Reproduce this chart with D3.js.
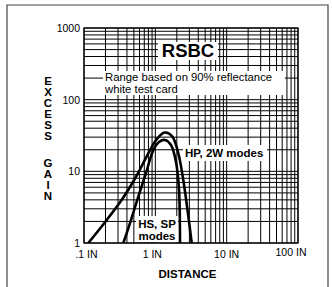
<!DOCTYPE html>
<html>
<head>
<meta charset="utf-8">
<script src="https://cdn.jsdelivr.net/npm/d3@7"></script>
<style>
  body { margin: 0; background: #fff; }
  text { font-family: "Liberation Sans", Arial, sans-serif; fill: #000; }
</style>
</head>
<body>
<svg width="332" height="287"></svg>
<script>
// axis ticks
const xTicks = [0.1, 1, 10, 100];
const xTickLabels = [".1 IN", "1 IN", "10 IN", "100 IN"];
const yTicks = [1, 10, 100, 1000];
const yTickLabels = ["1", "10", "100", "1000"];

// HP, 2W modes (outer curve)
const hpX = [0.115, 0.203, 0.352, 0.553, 0.815, 1.055, 1.345, 1.713, 2.079, 2.466, 2.825, 3.235];
const hpY = [1, 2.03, 4.25, 8.89, 18.6, 28.3, 34.8, 31.1, 18.6, 7.57, 2.89, 1];

// HS, SP modes (inner curve)
const hsX = [0.356, 0.456, 0.577, 0.740, 0.937, 1.126, 1.366, 1.658, 1.949, 2.147, 2.218];
const hsY = [1, 2.09, 4.43, 9.48, 19.8, 25.7, 27.4, 23.3, 13.5, 5.49, 1];

const svg = d3.select("svg");
const pLeft = 84, pRight = 298, pTop = 28, pBottom = 243;

const x = d3.scaleLog().domain([0.1, 100]).range([pLeft, pRight]);
const y = d3.scaleLog().domain([1, 1000]).range([pBottom, pTop]);

// outer frame
svg.append("path")
    .attr("d", "M7,287V5H328V287")
    .attr("fill", "none")
    .attr("stroke", "#444")
    .attr("stroke-width", 1.2);

// log grid
const gridX = [], gridY = [];
[0.1, 1, 10].forEach(d => { for (let i = 1; i <= 9; i++) gridX.push(d * i); });
gridX.push(100);
[1, 10, 100].forEach(d => { for (let i = 1; i <= 9; i++) gridY.push(d * i); });
gridY.push(1000);

const grid = svg.append("g");
grid.selectAll(".gx").data(gridX).enter().append("line")
    .attr("x1", d => x(d)).attr("x2", d => x(d))
    .attr("y1", pTop).attr("y2", pBottom)
    .attr("stroke", "#000").attr("stroke-width", 1);
grid.selectAll(".gy").data(gridY).enter().append("line")
    .attr("x1", pLeft).attr("x2", pRight)
    .attr("y1", d => y(d)).attr("y2", d => y(d))
    .attr("stroke", "#000").attr("stroke-width", 1);

svg.append("rect")
    .attr("x", pLeft).attr("y", pTop)
    .attr("width", pRight - pLeft).attr("height", pBottom - pTop)
    .attr("fill", "none").attr("stroke", "#000").attr("stroke-width", 1.2);

// curves
svg.append("clipPath").attr("id", "plot").append("rect")
    .attr("x", pLeft).attr("y", pTop).attr("width", pRight - pLeft).attr("height", pBottom - pTop);

const line = d3.line()
    .x(d => x(d[0]))
    .y(d => y(d[1]))
    .curve(d3.curveCatmullRom);

[[hpX, hpY], [hsX, hsY]].forEach(([xs, ys]) => {
    svg.append("path")
        .datum(xs.map((v, i) => [v, ys[i]]))
        .attr("clip-path", "url(#plot)")
        .attr("d", line)
        .attr("fill", "none")
        .attr("stroke", "#000")
        .attr("stroke-width", 2.6);
});

// white label boxes
function box(x0, y0, w, h) {
    svg.append("rect").attr("x", x0).attr("y", y0).attr("width", w).attr("height", h).attr("fill", "#fff");
}

box(158, 42, 60, 18);
svg.append("text").attr("x", 188).attr("y", 57)
    .attr("text-anchor", "middle").attr("font-weight", "bold").attr("font-size", 18.5)
    .text("RSBC");

box(103, 71, 182, 24);
svg.append("text").attr("x", 105).attr("y", 81).attr("font-size", 11.3)
    .text("Range based on 90% reflectance");
svg.append("text").attr("x", 105).attr("y", 93).attr("font-size", 11.3)
    .text("white test card");

box(183, 145, 84, 16);
svg.append("text").attr("x", 185).attr("y", 157).attr("font-size", 11.5).attr("font-weight", "bold")
    .text("HP, 2W modes");

box(136, 216, 42, 26);
svg.append("text").attr("x", 157).attr("y", 228).attr("text-anchor", "middle")
    .attr("font-size", 11.5).attr("font-weight", "bold").text("HS, SP");
svg.append("text").attr("x", 157).attr("y", 240).attr("text-anchor", "middle")
    .attr("font-size", 11.5).attr("font-weight", "bold").text("modes");

// tick labels
const xLabelShift = [2.5, -3, 0, -7];
const xLabelLift = [0, 0, 0, -2];
svg.selectAll(".xl").data(xTicks).enter().append("text")
    .attr("x", (d, i) => x(d) + xLabelShift[i])
    .attr("y", (d, i) => 258 + xLabelLift[i])
    .attr("text-anchor", "middle").attr("font-size", 10.5)
    .text((d, i) => xTickLabels[i]);

svg.selectAll(".yl").data(yTicks).enter().append("text")
    .attr("x", 80).attr("y", d => y(d) + 4)
    .attr("text-anchor", "end").attr("font-size", 10.5)
    .text((d, i) => yTickLabels[i]);

// axis titles
svg.append("text").attr("x", 187.5).attr("y", 278)
    .attr("text-anchor", "middle").attr("font-weight", "bold").attr("font-size", 11.5)
    .text("DISTANCE");

const title1 = "EXCESS".split(""), title2 = "GAIN".split("");
svg.selectAll(".t1").data(title1).enter().append("text")
    .attr("x", 48).attr("y", (d, i) => 85 + i * 11)
    .attr("text-anchor", "middle").attr("font-weight", "bold").attr("font-size", 11.5)
    .text(d => d);
svg.selectAll(".t2").data(title2).enter().append("text")
    .attr("x", 48).attr("y", (d, i) => 167 + i * 11)
    .attr("text-anchor", "middle").attr("font-weight", "bold").attr("font-size", 11.5)
    .text(d => d);
</script>
</body>
</html>
